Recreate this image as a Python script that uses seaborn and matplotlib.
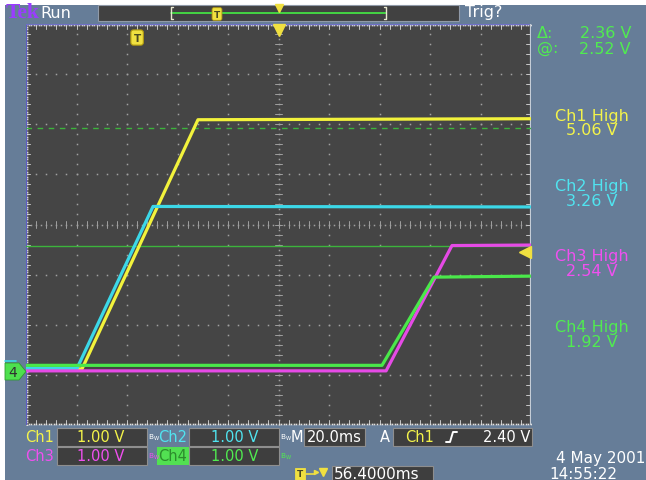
import numpy as np
import pandas as pd
import matplotlib
matplotlib.use("Agg")
import matplotlib.pyplot as plt
import seaborn as sns
from matplotlib.patches import Rectangle, Polygon

# ---------------- data ----------------
channels = ["Ch1", "Ch2", "Ch3", "Ch4"]
ch1_time = [0.0, 22.2, 68.1, 200.0]
ch1_volts = [0.07, 0.07, 5.04, 5.06]
ch2_time = [0.0, 20.2, 50.3, 200.0]
ch2_volts = [0.08, 0.08, 3.31, 3.30]
ch3_time = [0.0, 142.6, 168.7, 200.0]
ch3_volts = [0.03, 0.03, 2.53, 2.54]
ch4_time = [0.0, 141.0, 161.6, 200.0]
ch4_volts = [0.14, 0.14, 1.90, 1.92]

high_labels = ["Ch1 High", "Ch2 High", "Ch3 High", "Ch4 High"]
high_values = ["5.06 V", "3.26 V", "2.54 V", "1.92 V"]
cursor_levels = [2.52, 4.88]          # solid, dashed cursor (V)
cursor_delta = "2.36 V"
cursor_at = "2.52 V"
scale_labels = ["1.00 V", "1.00 V", "1.00 V", "1.00 V"]
timebase = "20.0ms"
trigger_source = "Ch1"
trigger_level = 2.40
trigger_label = "2.40 V"
trigger_time = 44.0
delay_label = "56.4000ms"
date_label = "4 May 2001"
clock_label = "14:55:22"

trace_colors = ["#f2f23c", "#3cd8e8", "#e64ae6", "#4ae84a"]
text_colors = ["#f4f44a", "#50e4f0", "#f050f0", "#50ec50"]

SLATE = "#667d98"
SCREEN = "#454545"
W, H = 646, 481

df = pd.concat([
    pd.DataFrame({"time": t, "volts": v, "channel": c})
    for t, v, c in zip([ch1_time, ch2_time, ch3_time, ch4_time],
                       [ch1_volts, ch2_volts, ch3_volts, ch4_volts], channels)
], ignore_index=True)

sns.set_style("dark")
plt.rcParams["font.family"] = ["DejaVu Sans"]

fig = plt.figure(figsize=(W / 100, H / 100), dpi=100, facecolor="white")

# background (pixel coords)
bg = fig.add_axes([0, 0, 1, 1], zorder=0)
bg.set_xlim(0, W); bg.set_ylim(H, 0); bg.axis("off")
bg.add_patch(Rectangle((5, 6), W - 5, H - 6, color=SLATE, lw=0))

# main screen
ax = fig.add_axes([26 / W, (H - 426) / H, 505 / W, 401 / H], zorder=1)
ax.set_facecolor(SCREEN)
ax.set_xlim(0, 200)
ax.set_ylim(-1.05, 6.95)
ax.set_xticks([]); ax.set_yticks([])
for s in ax.spines.values():
    s.set_visible(False)

# graticule
gcol = "#a0a0a0"
ymin, ymax = -1.05, 6.95
vmaj = [20 * k for k in range(1, 10) if k != 5]
hmaj = [2.95 + j for j in (-3, -2, -1, 1, 2, 3)]
ydots = [ymin + 0.2 * m for m in range(1, 40)]
xdots = [4 * m for m in range(1, 50)]
for xv in vmaj:
    ax.plot([xv] * len(ydots), ydots, ls="none", marker="s", ms=1.1, color=gcol, mew=0)
for yv in hmaj:
    ax.plot(xdots, [yv] * len(xdots), ls="none", marker="s", ms=1.1, color=gcol, mew=0)
# center cross with ticks
ax.plot([100] * 80, [ymin + 0.1 * m for m in range(80)], ls="none", marker="s", ms=1.1, color=gcol, mew=0)
ax.plot([2 * m for m in range(100)], [2.95] * 100, ls="none", marker="s", ms=1.1, color=gcol, mew=0)
for yv in ydots:
    ax.plot([98.6, 101.4], [yv, yv], color=gcol, lw=0.7)
for xv in xdots:
    ax.plot([xv, xv], [2.88, 3.02], color=gcol, lw=0.7)
# border ticks
for xv in xdots:
    ax.plot([xv, xv], [ymax, ymax - 0.1], color="#c8c8c8", lw=0.7)
    ax.plot([xv, xv], [ymin, ymin + 0.1], color="#c8c8c8", lw=0.7)
for yv in ydots:
    ax.plot([200, 198], [yv, yv], color="#c8c8c8", lw=0.7)
    ax.plot([0, 1.6], [yv, yv], color="#c8c8c8", lw=0.7)
# border dotted lines
ax.plot([1 * m for m in range(201)], [ymax - 0.02] * 201, ls="none", marker="s", ms=1.2, color="#e0e0e0", mew=0)
ax.plot([1 * m for m in range(201)], [ymin + 0.02] * 201, ls="none", marker="s", ms=1.2, color="#e0e0e0", mew=0)
ax.plot([0.3] * 161, [ymin + 0.05 * m for m in range(161)], ls="none", marker="s", ms=1.2, color="#e0e0e0", mew=0)
ax.axvline(0, color="#5c5cc4", lw=1.6)
ax.axhline(ymax, color="#7070c8", lw=1.0)
ax.axvline(200, color="#c4ccd6", lw=1.6)

# cursors
ax.axhline(cursor_levels[0], color="#3cb43c", lw=1.0, zorder=2)
ax.axhline(cursor_levels[1], color="#3cb43c", lw=1.0, dashes=(4, 4), zorder=2)

# traces
sns.lineplot(data=df, x="time", y="volts", hue="channel", hue_order=channels,
             palette=dict(zip(channels, trace_colors)), ax=ax, legend=False,
             linewidth=2.3, sort=False, estimator=None, zorder=3)
ax.set_xlabel(""); ax.set_ylabel("")

# trigger markers
ax.text(trigger_time, 6.68, "T", color="#4a4a20", fontsize=7.5, fontweight="bold",
        ha="center", va="center", zorder=5,
        bbox=dict(boxstyle="round,pad=0.25", fc="#f0e040", ec="#b09a10", lw=0.8))
ax.plot([100], [6.84], marker="v", ms=8, color="#f0e040", ls="none", clip_on=False, zorder=5)
ax.plot([197.6], [trigger_level], marker="<", ms=8, color="#f0e040", ls="none", clip_on=False, zorder=5)

# ---------------- overlay (pixel coords) ----------------
ov = fig.add_axes([0, 0, 1, 1], zorder=2)
ov.set_xlim(0, W); ov.set_ylim(H, 0); ov.axis("off")


def txt(x, y, s, color="white", size=10.5, ha="left", **kw):
    ov.text(x, y, s, color=color, fontsize=size, ha=ha, va="center", **kw)


def box(x0, y0, x1, y1, fc="#3e3e3e", ec="#8e8e8e"):
    ov.add_patch(Rectangle((x0, y0), x1 - x0, y1 - y0, fc=fc, ec=ec, lw=0.8))


# top bar
txt(6, 13, "Tek", color="#9a3cff", size=15.5, family="Liberation Serif", fontweight="bold")
txt(40, 13, "Run", color="white", size=11.5)
box(98, 6, 459, 22, fc="#414141", ec="#909aa8")
ov.plot([171, 386], [14, 14], color="#44e044", lw=1.3)
ov.plot([173, 171, 171, 173], [8, 8, 20, 20], color="#e8e8d0", lw=1.0)
ov.plot([384, 386, 386, 384], [8, 8, 20, 20], color="#e8e8d0", lw=1.0)
ov.text(217, 15, "T", color="#4a4a20", fontsize=6.5, fontweight="bold", ha="center", va="center",
        bbox=dict(boxstyle="round,pad=0.2", fc="#f0e040", ec="#b09a10", lw=0.6))
ov.plot([279], [9], marker="v", ms=6, color="#f0e040", ls="none")
txt(465, 13, "Trig?", color="white", size=11.5)

# right panel
txt(537, 33, "\u0394:", color=text_colors[3], size=11.5)
txt(631, 33, cursor_delta, color=text_colors[3], size=11.5, ha="right")
txt(537, 49, "@:", color=text_colors[3], size=11.5)
txt(631, 49, cursor_at, color=text_colors[3], size=11.5, ha="right")
for i, (lab, val) in enumerate(zip(high_labels, high_values)):
    yc = 116 + 70.5 * i
    txt(592, yc, lab, color=text_colors[i], size=11.5, ha="center")
    txt(592, yc + 15, val, color=text_colors[i], size=11.5, ha="center")

# channel 4 ground marker
ov.add_patch(Polygon([(5, 364), (19, 364), (26, 372.5), (19, 381), (5, 381)],
                     closed=True, fc="#4ee04e", ec="#2f9a2f", lw=0.6))
txt(13, 373, "4", color="#303030", size=10, ha="center")
ov.plot([5, 16], [362, 362], color="#3cd8e8", lw=1.2)


def bw(x, y, color):
    ov.text(x, y, r"$\mathregular{B_W}$", color=color, fontsize=5.3, ha="left", va="center")


# bottom row 1
r1 = 438
txt(25, r1, channels[0], color=text_colors[0])
box(57, 429, 147, 447)
txt(124, r1, scale_labels[0], color=text_colors[0], ha="right")
bw(147.5, r1, "white")
txt(158, r1, channels[1], color=text_colors[1])
box(189, 429, 279, 447)
txt(258, r1, scale_labels[1], color=text_colors[1], ha="right")
bw(279.5, r1, "white")
txt(291, r1, "M", color="white")
box(304, 429, 365, 447)
txt(307, r1, timebase, color="white")
txt(380, r1, "A", color="white")
box(393, 429, 532, 447)
txt(405, r1, trigger_source, color=text_colors[0])
ov.plot([446, 450, 453, 457], [443, 443, 433, 433], color="white", lw=1.4)
txt(530, r1, trigger_label, color="white", ha="right")

# bottom row 2
r2 = 457
txt(25, r2, channels[2], color=text_colors[2])
box(57, 448, 147, 466)
txt(124, r2, scale_labels[2], color=text_colors[2], ha="right")
bw(147.5, r2, text_colors[2])
ov.add_patch(Rectangle((157, 448), 32, 18, fc="#52e052", ec="#52e052", lw=0))
txt(158.5, r2, channels[3], color="#2c8c2c")
box(189, 448, 279, 466)
txt(258, r2, scale_labels[3], color=text_colors[3], ha="right")
bw(279.5, r2, text_colors[3])

# bottom row 3
ov.text(300, 475, "T", color="#4a4a20", fontsize=6.5, fontweight="bold", ha="center", va="center",
        bbox=dict(boxstyle="square,pad=0.2", fc="#f0e040", ec="#f0e040", lw=0.6))
ov.plot([306, 314], [475, 475], color="#f0e040", lw=1.2)
ov.plot([316], [473], marker=">", ms=3, color="#f0e040", ls="none")
ov.plot([323], [473], marker="v", ms=6, color="#f0e040", ls="none")
box(332, 467, 433, 484)
txt(334, 475, delay_label, color="white", size=11)

txt(645, 459, date_label, color="white", size=11, ha="right")
txt(617, 475, clock_label, color="white", size=11, ha="right")

fig.savefig("out.png", dpi=100, facecolor="white")
